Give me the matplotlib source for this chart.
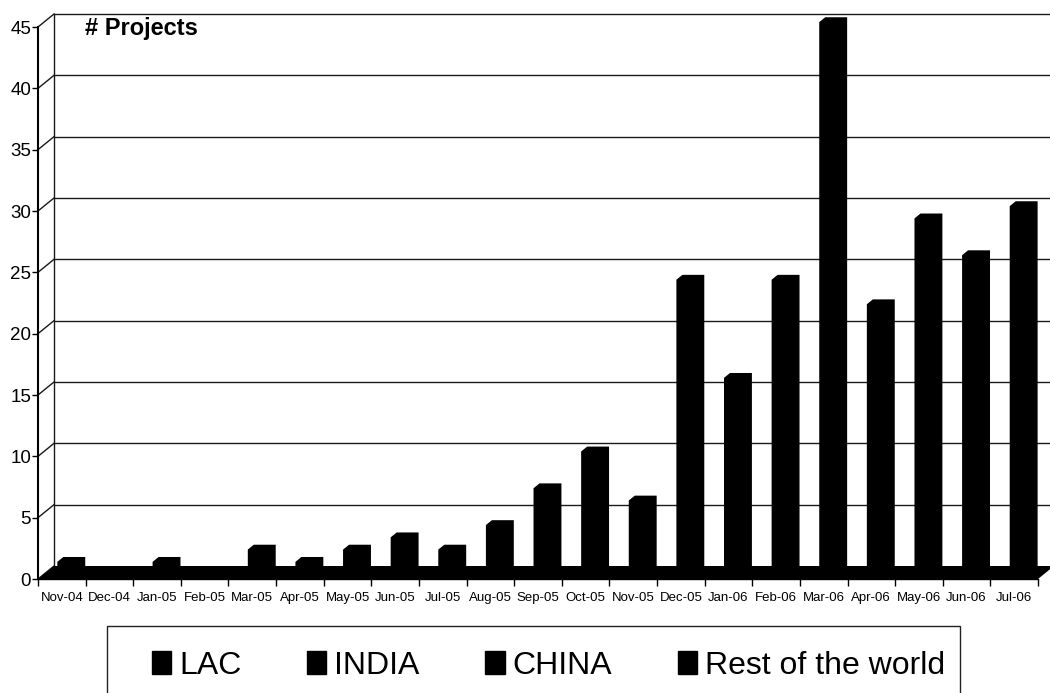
import matplotlib

matplotlib.use("Agg")
import matplotlib.pyplot as plt
from matplotlib.patches import Patch, Rectangle

plt.rcParams["font.family"] = ["Liberation Sans", "DejaVu Sans"]

months = ["Nov-04", "Dec-04", "Jan-05", "Feb-05", "Mar-05", "Apr-05", "May-05",
          "Jun-05", "Jul-05", "Aug-05", "Sep-05", "Oct-05", "Nov-05", "Dec-05",
          "Jan-06", "Feb-06", "Mar-06", "Apr-06", "May-06", "Jun-06", "Jul-06"]
projects = [1, 0, 1, 0, 2, 1, 2, 3, 2, 4, 7, 10, 6, 24, 16, 24, 45, 22, 29, 26, 30]
regions = ["LAC", "INDIA", "CHINA", "Rest of the world"]
y_ticks = [0, 5, 10, 15, 20, 25, 30, 35, 40, 45]

W, H, DPI = 1050, 693, 100
fig = plt.figure(figsize=(W / DPI, H / DPI), dpi=DPI)

# front plane of the 3-D box in pixels
left, right, bottom, top = 38, 1038, 579, 27
ax = fig.add_axes([left / W, 1 - bottom / H, (right - left) / W, (bottom - top) / H])
n = len(months)
ymax = y_ticks[-1]
ax.set_xlim(0, n)
ax.set_ylim(0, ymax)

# depth of the box: back wall sits 16px right and 13px up
dx = 16 / ((right - left) / n)
dy = 13 / ((bottom - top) / ymax)

line_kw = dict(color="#1a1a1a", lw=1.0, clip_on=False, zorder=1)

# back wall grid and top edge
for v in y_ticks[1:]:
    ax.plot([dx, n + dx], [v + dy, v + dy], **line_kw)
# side wall diagonals
for v in y_ticks:
    ax.plot([0, dx], [v, v + dy], **line_kw)
ax.plot([dx, dx], [dy, ymax + dy], **line_kw)

# floor
ax.fill([0, n, n + dx, dx], [0, 0, dy, dy], color="black", lw=0, clip_on=False, zorder=2)

# bars: front face at 3/8 depth, back face at 3/4 depth
f1, f2 = 0.375, 0.75
bar_left, bar_w = 0.28, 0.46
for i, v in enumerate(projects):
    if v == 0:
        continue
    x0 = i + bar_left
    x1 = x0 + bar_w
    a1, b1 = f1 * dx, f1 * dy
    a2, b2 = f2 * dx, f2 * dy
    xs = [x0 + a1, x1 + a1, x1 + a2, x1 + a2, x0 + a2, x0 + a1]
    ys = [b1, b1, b2, v + b2, v + b2, v + b1]
    ax.fill(xs, ys, color="black", lw=0, clip_on=False, zorder=3)

# front axis
for s in ["top", "right"]:
    ax.spines[s].set_visible(False)
ax.spines["left"].set_bounds(0, ymax)
ax.spines["left"].set_linewidth(1.5)
ax.spines["bottom"].set_linewidth(1.0)
ax.spines["left"].set_zorder(4)

ax.set_yticks(y_ticks)
ax.set_yticklabels([str(t) for t in y_ticks], fontsize=13.5)
ax.tick_params(axis="y", direction="out", length=4.5, width=1, pad=0.5)

ax.set_xticks(range(n + 1))
ax.set_xticklabels([])
ax.set_xticks([i + 0.5 for i in range(n)], minor=True)
ax.set_xticklabels(months, minor=True, fontsize=9.5)
ax.tick_params(axis="x", which="major", direction="out", length=5, width=1)
ax.tick_params(axis="x", which="minor", length=0, pad=9.5)

fig.text(85 / W, 1 - 35 / H, "# Projects", fontsize=17, fontweight="bold",
         va="baseline", ha="left")

# legend, all regions drawn in black
handles = [Patch(facecolor="black", edgecolor="black") for _ in regions]
fig.legend(handles, regions, loc="center", bbox_to_anchor=(548.5 / W, 1 - 666 / H),
           ncol=4, frameon=False, fontsize=23, handlelength=0.6, handleheight=0.72,
           handletextpad=0.25, columnspacing=2.06, borderpad=0)
fig.add_artist(Rectangle((107 / W, -0.1), (960 - 107) / W, 0.1 + (693 - 626) / H,
                         transform=fig.transFigure, fill=False, ec="#222222", lw=1.0))

fig.savefig("out.png", dpi=DPI)
